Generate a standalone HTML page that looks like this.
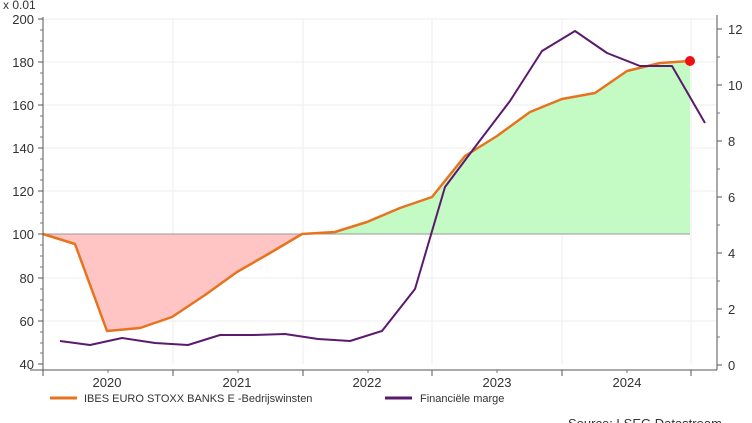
<!DOCTYPE html>
<html><head><meta charset="utf-8"><style>
html,body{margin:0;padding:0;background:#fff;}
svg{display:block;font-family:"Liberation Sans",Arial,sans-serif;}
</style></head><body>
<svg width="752" height="423" viewBox="0 0 752 423" xmlns="http://www.w3.org/2000/svg">
<rect width="752" height="423" fill="#fff"/>
<g stroke="#eeeeee" stroke-width="1">
<line x1="43" y1="19" x2="717" y2="19"/><line x1="43" y1="62" x2="717" y2="62"/><line x1="43" y1="105" x2="717" y2="105"/><line x1="43" y1="148" x2="717" y2="148"/><line x1="43" y1="191" x2="717" y2="191"/><line x1="43" y1="278" x2="717" y2="278"/><line x1="43" y1="321" x2="717" y2="321"/>
<line x1="173" y1="19" x2="173" y2="364"/><line x1="303" y1="19" x2="303" y2="364"/><line x1="432" y1="19" x2="432" y2="364"/><line x1="562" y1="19" x2="562" y2="364"/><line x1="691" y1="19" x2="691" y2="364"/>
</g>
<polygon fill="#ffc4c4" points="43,234 75,244 107,331 140,328 172,317 205,295 237,272 270,253 302,234"/>
<polygon fill="#c4fbc4" points="302,234 335,232 367,222 400,208 432,197 465,156 497,136 530,112 562,99 595,93 627,71 660,63 690,61 690,234"/>
<line x1="43" y1="234" x2="690" y2="234" stroke="#999" stroke-width="1"/>
<polyline fill="none" stroke="#e8731e" stroke-width="2.5" stroke-linejoin="round" points="43,234 75,244 107,331 140,328 172,317 205,295 237,272 270,253 302,234 335,232 367,222 400,208 432,197 465,156 497,136 530,112 562,99 595,93 627,71 660,63 690,61"/>
<polyline fill="none" stroke="#5a1a6e" stroke-width="2" stroke-linejoin="round" points="60,341 90,345 122,338 155,343 188,345 220,335 253,335 285,334 318,339 350,341 382,331 415,289 445,187 478,143 510,101 542,51 575,31 607,53 640,66 672,66 705,123"/>
<circle cx="690" cy="61" r="5" fill="#ee1111"/>
<g stroke="#555" stroke-width="1">
<line x1="43" y1="17" x2="43" y2="370"/>
<line x1="717" y1="15" x2="717" y2="370"/>
<line x1="30" y1="370" x2="717" y2="370"/>
<line x1="38" y1="19" x2="43" y2="19"/><line x1="38" y1="62" x2="43" y2="62"/><line x1="38" y1="105" x2="43" y2="105"/><line x1="38" y1="148" x2="43" y2="148"/><line x1="38" y1="191" x2="43" y2="191"/><line x1="38" y1="234" x2="43" y2="234"/><line x1="38" y1="278" x2="43" y2="278"/><line x1="38" y1="321" x2="43" y2="321"/><line x1="38" y1="364" x2="43" y2="364"/>
<line x1="717" y1="29" x2="722" y2="29"/><line x1="717" y1="85" x2="722" y2="85"/><line x1="717" y1="141" x2="722" y2="141"/><line x1="717" y1="197" x2="722" y2="197"/><line x1="717" y1="253" x2="722" y2="253"/><line x1="717" y1="309" x2="722" y2="309"/><line x1="717" y1="365" x2="722" y2="365"/>
<line x1="43" y1="370" x2="43" y2="376"/><line x1="173" y1="370" x2="173" y2="376"/><line x1="303" y1="370" x2="303" y2="376"/><line x1="432" y1="370" x2="432" y2="376"/><line x1="562" y1="370" x2="562" y2="376"/><line x1="691" y1="370" x2="691" y2="376"/>
</g>
<g stroke="#777" stroke-width="1">
<path d="M40,30h3M40,41h3M40,51h3M40,73h3M40,84h3M40,94h3M40,116h3M40,127h3M40,137h3M40,159h3M40,170h3M40,180h3M40,202h3M40,213h3M40,223h3M40,245h3M40,256h3M40,267h3M40,289h3M40,300h3M40,310h3M40,332h3M40,343h3M40,353h3"/>
<path d="M717,57h3M717,113h3M717,169h3M717,225h3M717,281h3M717,337h3"/>
<path d="M108,370v3M238,370v3M368,370v3M497,370v3M627,370v3"/>
</g>
<g font-size="13" fill="#333" text-anchor="end">
<text x="34" y="24">200</text><text x="34" y="67">180</text><text x="34" y="110">160</text><text x="34" y="153">140</text><text x="34" y="196">120</text><text x="34" y="239">100</text><text x="34" y="283">80</text><text x="34" y="326">60</text><text x="34" y="369">40</text>
</g>
<text x="3" y="9" font-size="12" fill="#333">x 0.01</text>
<g font-size="13" fill="#333">
<text x="728" y="34">12</text><text x="728" y="90">10</text><text x="728" y="146">8</text><text x="728" y="202">6</text><text x="728" y="258">4</text><text x="728" y="314">2</text><text x="728" y="370">0</text>
</g>
<g font-size="13" fill="#333" text-anchor="middle">
<text x="107" y="387">2020</text><text x="237" y="387">2021</text><text x="367" y="387">2022</text><text x="497" y="387">2023</text><text x="627" y="387">2024</text>
</g>
<line x1="50" y1="398" x2="77" y2="398" stroke="#e8731e" stroke-width="3"/>
<text x="84" y="402" font-size="11" fill="#333">IBES EURO STOXX BANKS E -Bedrijswinsten</text>
<line x1="385" y1="398" x2="412" y2="398" stroke="#5a1a6e" stroke-width="3"/>
<text x="420" y="402" font-size="11" fill="#333">Financiële marge</text>
<text x="568" y="428" font-size="13" fill="#333">Source: LSEG Datastream</text>
</svg>
</body></html>
